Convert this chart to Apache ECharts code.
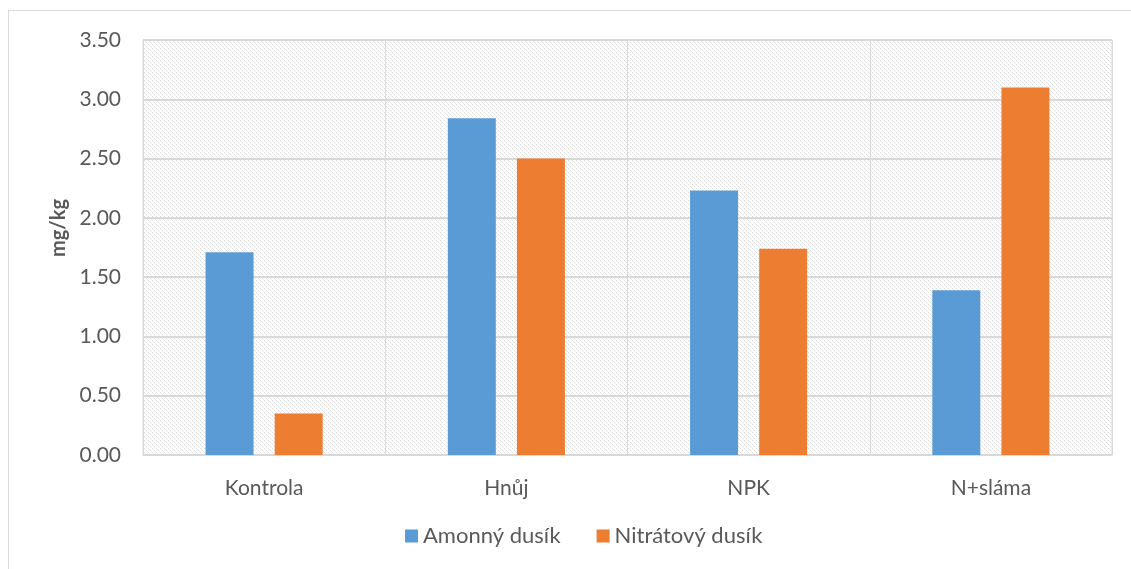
<!DOCTYPE html>
<html><head><meta charset="utf-8">
<script src="https://cdn.jsdelivr.net/npm/echarts@6/dist/echarts.min.js"></script>
<style>html,body{margin:0;padding:0;background:#fff}#c{width:1131px;height:569px}</style>
</head><body><div id="c"></div>
<script>
const categories = ['Kontrola', 'Hnůj', 'NPK', 'N+sláma'];
const amonny = [1.71, 2.84, 2.23, 1.39];
const nitratovy = [0.35, 2.50, 1.74, 3.10];
const seriesNames = ['Amonný dusík', 'Nitrátový dusík'];
const yTicks = {min: 0, max: 3.5, interval: 0.5};

// hatch pattern tile
const tile = document.createElement('canvas');
tile.width = 8; tile.height = 8;
const tc = tile.getContext('2d');
tc.fillStyle = '#ffffff'; tc.fillRect(0,0,8,8);
tc.fillStyle = '#dcdcdc';
for (let i = 0; i < 8; i += 2) {
  tc.fillRect(i, i, 1, 1);
  tc.fillRect((i + 4) % 8, i, 1, 1);
}
tc.fillStyle = '#ececec';
for (let i = 1; i < 8; i += 2) {
  tc.fillRect(i, i, 1, 1);
  tc.fillRect((i + 4) % 8, i, 1, 1);
}

const font = 'Lato, "Open Sans", sans-serif';
const chart = echarts.init(document.getElementById('c'), null, {renderer: 'canvas'});
chart.setOption({
  animation: false,
  backgroundColor: '#fff',
  grid: {left: 143, right: 19, top: 40, bottom: 114, show: true,
    backgroundColor: {image: tile, repeat: 'repeat'}, borderColor: '#d9d9d9', borderWidth: 1},
  legend: {bottom: 17, left: 400, itemWidth: 13, itemHeight: 13, itemGap: 36,
    icon: 'rect', textStyle: {fontFamily: font, fontSize: 22, color: '#595959'},
    data: seriesNames},
  xAxis: {type: 'category', data: categories,
    axisLine: {lineStyle: {color: '#d9d9d9', width: 1}},
    axisTick: {show: false},
    splitLine: {show: true, lineStyle: {color: '#d9d9d9', width: 1}},
    axisLabel: {fontFamily: font, fontSize: 21, color: '#595959', margin: 23}},
  yAxis: {type: 'value', min: yTicks.min, max: yTicks.max, interval: yTicks.interval,
    axisLine: {show: false}, axisTick: {show: false},
    splitLine: {lineStyle: {color: '#d9d9d9', width: 2}},
    axisLabel: {fontFamily: font, fontSize: 21, color: '#595959', margin: 22,
      formatter: v => v.toFixed(2)}},
  graphic: [
    {type: 'line', shape: {x1: 8, y1: 10.5, x2: 1131, y2: 10.5}, style: {stroke: '#d9d9d9', lineWidth: 1}},
    {type: 'line', shape: {x1: 8.5, y1: 10, x2: 8.5, y2: 569}, style: {stroke: '#d9d9d9', lineWidth: 1}},
    {type: 'text', x: 59, y: 228, rotation: Math.PI/2,
      style: {text: 'mg/kg', font: 'bold 20px ' + font, fill: '#595959', textAlign: 'center', textVerticalAlign: 'middle'}}
  ],
  series: [
    {name: seriesNames[0], type: 'bar', data: amonny, barWidth: 48, barGap: '44%',
      itemStyle: {color: '#5b9bd5'}},
    {name: seriesNames[1], type: 'bar', data: nitratovy, barWidth: 48, barGap: '44%',
      itemStyle: {color: '#ed7d31'}}
  ]
});
</script></body></html>
